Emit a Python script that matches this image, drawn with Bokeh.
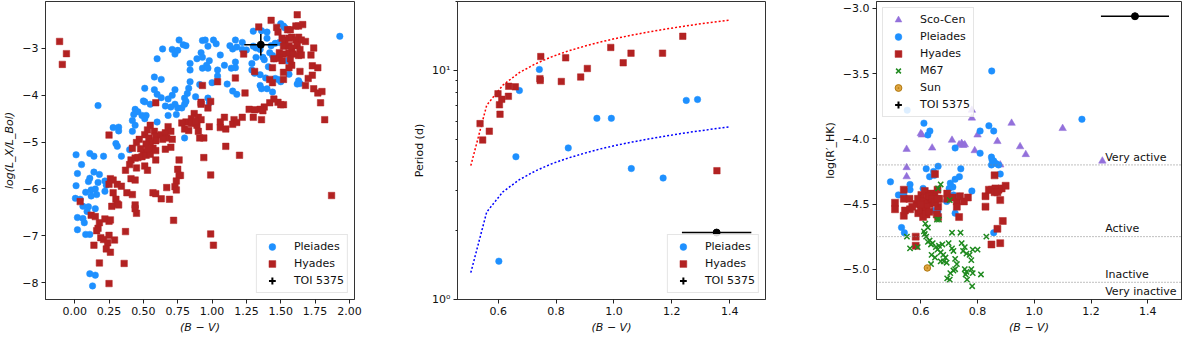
from bokeh.plotting import figure
from bokeh.layouts import row
from bokeh.models import (Range1d, FixedTicker, CustomJSTickFormatter, Legend, LegendItem, Span)
from bokeh.core.properties import value
from bokeh.embed import file_html
from bokeh.resources import INLINE

FONT = "DejaVu Sans"
BLUE = "#1E90FF"
RED = "#B22222"
PURPLE = "#9370DB"
GREEN = "#1f8a1f"
NAN = float("nan")

# ---------------- Panel 1: log(Lx/Lbol) vs B-V ----------------
pl1_bv = [0.01, 0.05, 0.11, 0.14, 0.21, 0.02, 0.11, 0.14, 0.18, 0.01,
          0.10, 0.17, 0.005, 0.04, 0.08, 0.12, 0.15, 0.16, 0.12, 0.22,
          0.06, 0.10, 0.09, 0.15, 0.02, 0.06, 0.07, 0.02, 0.08, 0.11,
          0.11, 0.15, 0.13, 0.17, 0.28, 0.32, 0.32, 0.30, 0.31, 0.34,
          0.22, 0.23,
          0.76, 0.79, 0.81, 0.71, 0.73, 0.75, 0.64, 0.60, 0.93, 0.92,
          0.93, 0.89, 0.84, 0.84, 0.93, 0.58, 0.63, 0.51, 0.58, 0.60,
          0.63, 0.84, 0.83, 0.82, 0.80, 0.81, 0.88, 0.50, 0.51, 0.55,
          0.66, 0.70, 0.73, 0.75, 0.78, 0.80, 0.44, 0.46, 0.43, 0.49,
          0.52, 0.42, 0.51, 0.68, 0.74, 0.44, 0.42, 0.60, 0.80, 0.40,
          0.68, 0.71, 0.73,
          0.95, 1.01, 1.03, 0.97, 0.98, 0.96, 0.97, 1.06, 1.13, 1.15,
          1.17, 1.18, 1.22, 1.22, 1.25, 1.17, 1.09, 1.14, 1.17, 1.04,
          1.04, 1.00, 1.11, 0.91, 1.15, 1.18, 0.97, 0.98, 1.30, 1.36,
          1.40, 1.50, 1.52, 1.53, 1.32, 1.35, 1.30, 1.37, 1.32, 1.29,
          1.29, 1.31, 1.35, 1.39, 1.35, 1.36, 1.40, 1.44, 1.38, 1.41,
          1.42, 1.44, 1.45, 1.46, 1.49, 1.43, 1.40, 1.55, 1.56, 1.63,
          1.64, 1.62, 1.93, 1.48, 1.50, 1.46]
pl1_lx = [-5.27, -5.48, -5.24, -5.30, -5.30, -5.67, -5.77, -5.64, -5.69, -5.93,
          -5.84, -5.86, -6.20, -6.22, -6.07, -6.02, -6.00, -6.12, -6.15, -6.05,
          -6.37, -6.38, -6.48, -6.42, -6.61, -6.63, -6.72, -6.87, -6.97, -6.97,
          -7.81, -7.84, -8.07, -4.22, -4.69, -4.68, -4.76, -5.03, -5.09, -5.30,
          -5.83, -5.92,
          -2.82, -2.92, -2.94, -3.02, -3.12, -3.04, -3.01, -3.22, -2.83, -3.09,
          -3.19, -3.22, -3.32, -3.46, -3.42, -3.61, -3.66, -3.85, -3.88, -3.98,
          -4.05, -3.71, -3.85, -3.96, -4.06, -4.13, -4.03, -4.12, -4.14, -4.19,
          -4.23, -4.25, -4.19, -4.27, -4.27, -4.19, -4.30, -4.35, -4.41, -4.43,
          -4.43, -4.54, -4.50, -4.43, -4.41, -4.64, -4.77, -4.57, -4.91, -5.16,
          -4.08, -4.00, -3.88,
          -2.82, -2.82, -2.90, -2.95, -3.26, -3.36, -3.42, -3.14, -2.94, -3.01,
          -2.82, -2.97, -2.87, -3.02, -3.03, -3.29, -3.36, -3.42, -3.41, -3.46,
          -3.59, -3.73, -3.76, -3.77, -3.91, -3.98, -4.06, -4.16, -2.63, -2.62,
          -2.65, -2.47, -2.52, -2.56, -2.99, -3.02, -2.95, -3.19, -3.19, -3.32,
          -3.46, -3.53, -3.56, -3.63, -3.79, -3.86, -3.86, -3.93, -3.24, -3.39,
          -3.09, -3.15, -3.22, -2.89, -2.87, -2.94, -2.78, -3.26, -3.55, -3.69,
          -3.75, -3.76, -2.74, -3.66, -3.71, -3.64]

hy1_bv = [-0.11, -0.06, -0.09,
          0.42, 0.50, 0.54, 0.57, 0.66, 0.41, 0.44, 0.46, 0.49, 0.52,
          0.55, 0.59, 0.37, 0.40, 0.45, 0.51, 0.53, 0.76, 0.94, 0.75,
          0.76, 0.77, 0.41, 0.44, 0.26, 0.28, 0.25, 0.31, 0.34, 0.74,
          0.73, 0.74, 0.67, 0.57, 0.59, 0.63, 0.69, 0.38, 0.42, 0.28,
          0.30, 0.31, 0.27, 0.32, 0.44, 0.44, 0.45, 0.04, 0.12, 0.15,
          0.22, 0.25, 0.26, 0.18, 0.17, 0.16, 0.37, 0.72, 0.19, 0.21,
          0.25, 0.29, 0.24, 0.14, 0.23, 0.26, 0.18, 0.36, 0.25,
          1.20, 0.99, 1.87, 0.99, 1.01, 1.10,
          0.93, 0.59, 0.92, 0.87, 0.90, 0.85, 0.81, 0.78, 0.85, 0.89,
          0.25, 0.55, 0.53, 0.58, 0.51, 0.54, 0.59, 0.63, 0.66, 0.68,
          0.70, 0.67, 0.71, 0.64, 0.59, 0.55, 0.52, 0.47, 0.45, 0.48,
          0.53, 0.59, 0.70, 0.80, 0.83,
          1.62, 1.43, 1.34, 1.47, 1.48, 1.55, 1.57, 1.61, 1.63, 1.66,
          1.51, 1.53, 1.56, 1.58, 1.61, 1.63, 1.65, 1.68, 1.52, 1.56,
          1.58, 1.62, 1.64, 1.49, 1.52, 1.56, 1.59, 1.63, 1.65, 1.45,
          1.49, 1.51, 1.57, 1.58, 1.56, 1.74, 1.72, 1.73, 1.77, 1.64,
          1.73, 1.70, 1.68, 1.74, 1.77, 1.80, 1.79, 1.82, 1.44, 1.52,
          1.52, 1.31, 1.23, 1.17, 1.04, 1.24, 1.42, 1.44, 1.45, 1.48,
          1.50, 1.52, 1.42, 1.38, 1.37, 1.35, 1.31, 1.27, 1.30, 1.36,
          1.22, 1.16, 1.15, 1.18, 1.09, 1.06, 1.06, 1.10, 0.98, 0.92,
          0.99, 0.97, 0.92, 0.88, 0.90, 0.94, 0.91]
hy1_lx = [-2.85, -3.11, -3.34,
          -5.13, -5.21, -5.18, -5.13, -5.15, -5.38, -5.34, -5.33, -5.31, -5.28,
          -5.26, -5.38, -5.60, -5.48, -5.55, -5.51, -5.60, -5.38, -5.33, -5.58,
          -5.71, -5.71, -5.78, -5.81, -5.78, -5.81, -5.90, -5.90, -5.94, -5.83,
          -5.95, -6.02, -5.97, -6.08, -6.10, -6.21, -6.22, -6.08, -6.12, -6.08,
          -6.22, -6.32, -6.37, -6.34, -6.34, -6.42, -6.52, -6.27, -6.56, -6.59,
          -6.64, -6.69, -6.66, -6.72, -6.84, -6.89, -6.91, -6.67, -7.04, -7.08,
          -6.99, -7.09, -7.15, -7.20, -7.28, -7.35, -7.58, -7.59, -8.02,
          -5.28, -5.70, -6.14, -6.96, -7.20, -5.09,
          -3.79, -4.16, -4.19, -4.39, -4.47, -4.50, -4.57, -4.59, -4.60, -4.64,
          -4.85, -4.64, -4.74, -4.77, -4.84, -4.91, -4.87, -4.84, -4.80, -4.67,
          -4.77, -4.91, -4.94, -4.94, -4.97, -5.01, -5.04, -4.94, -5.01, -5.14,
          -5.14, -5.18, -5.11, -4.72, -4.75,
          -2.28, -2.40, -2.54, -2.55, -2.65, -2.60, -2.60, -2.52, -2.52, -2.49,
          -2.78, -2.82, -2.78, -2.76, -2.82, -2.76, -2.82, -2.85, -2.95, -2.94,
          -2.99, -2.94, -3.02, -3.09, -3.12, -3.09, -3.12, -3.15, -3.14, -3.22,
          -3.21, -3.26, -3.22, -3.36, -3.41, -2.99, -3.14, -3.37, -3.41, -3.49,
          -3.57, -3.64, -3.79, -3.86, -3.95, -3.92, -4.16, -4.52, -3.41, -3.51,
          -3.66, -3.49, -3.12, -3.63, -3.71, -3.95, -3.66, -3.73, -4.08, -4.15,
          -4.20, -4.20, -4.16, -4.25, -4.33, -4.30, -4.31, -4.30, -4.47, -4.52,
          -4.47, -4.52, -4.62, -4.58, -4.47, -4.57, -4.69, -4.72, -4.67, -4.15,
          -4.13, -4.27, -4.52, -4.56, -4.77, -4.91, -4.91]

# TOI 5375
toi_bv = 1.355
toi_bv_err = 0.12
toi_lx = -2.92
toi_lx_err = 0.23
toi_period = 1.96
toi_rhk = -3.06

# ---------------- Panel 2: rotation period ----------------
pl2_bv = [0.673, 0.742, 0.661, 0.842, 0.941, 0.991, 1.060, 1.170, 1.250, 1.289, 0.602]
pl2_per = [8.17, 10.1, 4.20, 4.59, 6.18, 6.18, 3.73, 3.39, 7.40, 7.47, 1.47]
hy2_bv = [0.537, 0.546, 0.569, 0.599, 0.604, 0.612, 0.606, 0.636, 0.635, 0.659, 0.747, 0.744,
          0.745, 0.833, 0.818, 0.885, 0.908, 0.989, 1.032, 1.059, 1.168, 1.238, 1.356]
hy2_per = [5.86, 4.97, 5.43, 7.91, 7.08, 7.48, 6.44, 8.53, 7.71, 8.48, 11.5, 9.21,
           9.04, 11.35, 8.95, 9.36, 10.2, 12.6, 10.8, 11.9, 11.9, 14.1, 3.65]
gyro_bv = [0.505, 0.56, 0.616, 0.672, 0.728, 0.784, 0.84, 0.895, 0.951, 1.007,
           1.063, 1.119, 1.175, 1.231, 1.287, 1.343, 1.40]
gyro_hyades = [3.84, 7.05, 8.63, 9.77, 10.68, 11.46, 12.14, 12.73, 13.29, 13.80,
               14.27, 14.71, 15.13, 15.52, 15.90, 16.25, 16.60]
gyro_pleiades = [1.31, 2.41, 2.95, 3.33, 3.64, 3.91, 4.14, 4.34, 4.54, 4.71,
                 4.87, 5.02, 5.16, 5.30, 5.43, 5.55, 5.67]

# ---------------- Panel 3: log R'HK ----------------
sco_bv = [0.55, 0.55, 0.55, 0.60, 0.604, 0.64, 0.71, 0.735, 0.744, 0.749, 0.755,
          0.78, 0.78, 0.79, 0.80, 0.87, 0.88, 0.92, 0.95, 0.97, 1.10, 1.24]
sco_rhk = [-4.08, -4.22, -4.29, -3.96, -3.97, -4.07, -4.01, -4.045, -4.035, -4.05, -4.045,
           -3.78, -3.84, -4.09, -3.97, -4.02, -4.20, -3.88, -4.06, -4.12, -3.92, -4.17]
pl3_bv = [0.493, 0.521, 0.540, 0.532, 0.542, 0.552, 0.562, 0.562, 0.611, 0.625,
          0.632, 0.619, 0.608, 0.631, 0.648, 0.661, 0.645, 0.721, 0.721, 0.704,
          0.713, 0.741, 0.736, 0.780, 0.736, 0.715, 0.840, 0.850, 0.809, 0.809,
          0.857, 0.849, 0.851, 0.857, 0.849, 0.865, 0.874, 0.880, 1.168, 0.691,
          0.648, 0.721, 0.653, 0.857, 0.700, 0.660]
pl3_rhk = [-4.33, -4.43, -4.43, -4.68, -4.72, -3.78, -4.35, -4.39, -3.88, -3.97,
           -3.94, -4.23, -4.38, -4.29, -4.28, -4.21, -4.25, -4.07, -4.31, -4.34,
           -4.37, -4.23, -4.29, -4.40, -4.44, -4.43, -3.90, -3.48, -3.94, -4.11,
           -3.94, -4.14, -4.16, -4.17, -4.20, -4.19, -4.20, -4.27, -3.85, -4.48,
           -4.55, -4.57, -4.48, -4.72, -4.38, -4.56]
hy3_bv = [0.65, 0.86, 0.828, 0.88, 0.889, 0.87, 0.849, 0.88, 0.582, 0.582,
          0.509, 0.509, 0.540, 0.540, 0.540, 0.544, 0.560, 0.562, 0.585, 0.591,
          0.600, 0.608, 0.602, 0.614, 0.625, 0.636, 0.648, 0.659, 0.642, 0.631,
          0.616, 0.661, 0.661, 0.665, 0.693, 0.693, 0.713, 0.727, 0.738, 0.752,
          0.766, 0.727, 0.735, 0.828, 0.840, 0.851, 0.863, 0.874, 0.885, 0.899,
          0.86, 0.87, 0.59, 0.61, 0.62, 0.63, 0.64, 0.65, 0.66, 0.62,
          0.60, 0.57, 0.63, 0.656]
hy3_rhk = [-4.27, -4.28, -4.52, -4.47, -4.63, -4.69, -4.81, -4.80, -4.75, -4.82,
           -4.49, -4.54, -4.39, -4.46, -4.59, -4.55, -4.46, -4.54, -4.50, -4.57,
           -4.55, -4.60, -4.43, -4.40, -4.45, -4.42, -4.43, -4.39, -4.48, -4.50,
           -4.54, -4.52, -4.60, -4.46, -4.42, -4.46, -4.45, -4.48, -4.44, -4.48,
           -4.45, -4.52, -4.60, -4.44, -4.39, -4.39, -4.38, -4.39, -4.38, -4.36,
           -4.41, -4.41, -4.46, -4.48, -4.52, -4.44, -4.46, -4.49, -4.46, -4.58,
           -4.50, -4.52, -4.56, -4.58]
m67_bv = [0.670, 0.702, 0.657, 0.664, 0.616, 0.625, 0.611, 0.551, 0.589, 0.614,
          0.619, 0.625, 0.631, 0.642, 0.636, 0.653, 0.664, 0.676, 0.659, 0.670,
          0.679, 0.687, 0.638, 0.650, 0.710, 0.740, 0.698, 0.710, 0.715, 0.744,
          0.755, 0.749, 0.761, 0.783, 0.800, 0.772, 0.778, 0.670, 0.681, 0.691,
          0.721, 0.727, 0.721, 0.715, 0.704, 0.693, 0.702, 0.755, 0.761, 0.778,
          0.783, 0.758, 0.763, 0.812, 0.781, 0.831, 0.661, 0.562, 0.636]
m67_rhk = [-4.35, -4.47, -4.62, -4.62, -4.65, -4.68, -4.71, -4.75, -4.83, -4.73,
           -4.75, -4.79, -4.78, -4.80, -4.81, -4.83, -4.82, -4.81, -4.85, -4.87,
           -4.89, -4.91, -4.89, -4.91, -4.72, -4.72, -4.80, -4.84, -4.86, -4.80,
           -4.83, -4.86, -4.88, -4.85, -4.85, -4.89, -4.93, -4.94, -4.94, -4.95,
           -4.92, -4.96, -5.00, -5.01, -5.03, -5.07, -5.08, -5.00, -5.02, -5.00,
           -5.03, -5.04, -5.08, -5.04, -5.13, -4.75, -4.38, -4.84, -4.96]
sun_bv = [0.623]
sun_rhk = [-4.99]
activity_levels = [-4.2, -4.75, -5.1]
activity_labels = ["Very active", "Active", "Inactive", "Very inactive"]
activity_label_y = [-4.14, -4.69, -5.04, -5.17]
activity_label_x = [1.25, 1.25, 1.25, 1.25]

# ticks
p1_xticks = [0.0, 0.25, 0.5, 0.75, 1.0, 1.25, 1.5, 1.75, 2.0]
p1_yticks = [-8, -7, -6, -5, -4, -3]
bv_ticks = [0.6, 0.8, 1.0, 1.2, 1.4]
p2_yticks = [1, 10]
p2_yminor = [2, 3, 4, 5, 6, 7, 8, 9, 20]
p3_yticks = [-5.0, -4.5, -4.0, -3.5, -3.0]

H = 336


def fmt(nd):
    return CustomJSTickFormatter(code="return tick.toFixed(%d).replace('-', '\u2212');" % nd)


def make_fig(width, xr, yr, mbl, mbr, ytype="linear"):
    p = figure(width=width, height=H, x_range=Range1d(*xr), y_range=Range1d(*yr),
               y_axis_type=ytype, output_backend="svg", toolbar_location=None,
               min_border_left=mbl, min_border_right=mbr, min_border_top=1, min_border_bottom=37)
    p.grid.visible = False
    p.outline_line_color = "#333333"
    p.outline_line_width = 1
    p.background_fill_color = "white"
    p.border_fill_color = "white"
    for ax in p.axis:
        ax.axis_line_color = "#333333"
        ax.major_tick_line_color = "#222222"
        ax.major_tick_out = 4
        ax.major_tick_in = 0
        ax.minor_tick_line_color = None
        ax.major_label_text_font = FONT
        ax.major_label_text_font_size = "11px"
        ax.major_label_text_color = "#111111"
        ax.axis_label_text_font = FONT
        ax.axis_label_text_font_size = "11px"
        ax.axis_label_text_color = "#111111"
        ax.axis_label_text_font_style = "normal"
        ax.major_label_standoff = 3
        ax.axis_label_standoff = 3
    return p


def make_legend(items, location):
    leg = Legend(items=items, location=location)
    leg.label_text_font = FONT
    leg.label_text_font_size = "11px"
    leg.label_text_color = "#111111"
    leg.border_line_color = "#cccccc"
    leg.border_line_width = 1
    leg.background_fill_color = "white"
    leg.background_fill_alpha = 0.85
    leg.padding = 3
    leg.spacing = 0
    leg.margin = 6
    leg.glyph_width = 24
    leg.glyph_height = 17
    leg.label_height = 17
    leg.label_standoff = 10
    return leg


def toi_renderers(p, yval, yerr=None):
    p.segment(x0=[toi_bv - toi_bv_err], y0=[yval], x1=[toi_bv + toi_bv_err], y1=[yval],
              line_color="black", line_width=1.6)
    if yerr is not None:
        p.segment(x0=[toi_bv], y0=[yval - yerr], x1=[toi_bv], y1=[yval + yerr],
                  line_color="black", line_width=1.6)
    p.scatter(x=[toi_bv], y=[yval], marker="circle", size=7, fill_color="black", line_color="black")
    # legend-only glyphs (errorbar symbol)
    cross = p.scatter(x=[NAN], y=[NAN], marker="cross", size=12, line_color="black", line_width=2)
    dot = p.scatter(x=[NAN], y=[NAN], marker="dot", size=12, line_color="black", line_width=3)
    return [cross, dot]


# ---------------- Figure 1 ----------------
p1 = make_fig(410, (-0.2125, 2.037), (-8.36, -1.997), 41, 56)
p1.xaxis.ticker = FixedTicker(ticks=p1_xticks)
p1.yaxis.ticker = FixedTicker(ticks=p1_yticks)
p1.xaxis.formatter = fmt(2)
p1.yaxis.formatter = fmt(0)
p1.xaxis.axis_label = "(B \u2212 V)"
p1.yaxis.axis_label = "log(L_X/L_Bol)"
p1.xaxis.axis_label_text_font_style = "italic"
p1.yaxis.axis_label_text_font_style = "italic"
r_pl1 = p1.scatter(x=pl1_bv, y=pl1_lx, marker="circle", size=6.5, fill_color=BLUE, line_color=BLUE, line_width=0.5)
r_hy1 = p1.scatter(x=hy1_bv, y=hy1_lx, marker="square", size=6.5, fill_color=RED, line_color=RED, line_width=0.5)
t1 = toi_renderers(p1, toi_lx, toi_lx_err)
p1.add_layout(make_legend([LegendItem(label="Pleiades", renderers=[r_pl1]),
                           LegendItem(label="Hyades", renderers=[r_hy1]),
                           LegendItem(label="TOI 5375", renderers=t1)], "bottom_right"))

# ---------------- Figure 2 ----------------
p2 = make_fig(410, (0.459, 1.524), (1, 20), 41, 55, ytype="log")
p2.xaxis.ticker = FixedTicker(ticks=bv_ticks)
p2.yaxis.ticker = FixedTicker(ticks=p2_yticks, minor_ticks=p2_yminor)
p2.xaxis.formatter = fmt(1)
p2.yaxis.formatter = CustomJSTickFormatter(
    code="return tick == 1 ? '10\u2070' : (tick == 10 ? '10\u00b9' : '');")
p2.yaxis.minor_tick_line_color = "#222222"
p2.yaxis.minor_tick_out = 2
p2.yaxis.minor_tick_in = 0
p2.xaxis.axis_label = "(B \u2212 V)"
p2.xaxis.axis_label_text_font_style = "italic"
p2.yaxis.axis_label = "Period (d)"
p2.line(x=gyro_bv, y=gyro_hyades, line_color="red", line_width=1.5, line_dash="2 2")
p2.line(x=gyro_bv, y=gyro_pleiades, line_color="blue", line_width=1.5, line_dash="2 2")
r_pl2 = p2.scatter(x=pl2_bv, y=pl2_per, marker="circle", size=6.5, fill_color=BLUE, line_color=BLUE, line_width=0.5)
r_hy2 = p2.scatter(x=hy2_bv, y=hy2_per, marker="square", size=6.5, fill_color=RED, line_color=RED, line_width=0.5)
t2 = toi_renderers(p2, toi_period)
p2.add_layout(make_legend([LegendItem(label="Pleiades", renderers=[r_pl2]),
                           LegendItem(label="Hyades", renderers=[r_hy2]),
                           LegendItem(label="TOI 5375", renderers=t2)], "bottom_right"))

# ---------------- Figure 3 ----------------
p3 = make_fig(364, (0.4438, 1.519), (-5.232, -2.947), 50, 3)
p3.xaxis.ticker = FixedTicker(ticks=bv_ticks)
p3.yaxis.ticker = FixedTicker(ticks=p3_yticks)
p3.xaxis.formatter = fmt(1)
p3.yaxis.formatter = fmt(1)
p3.xaxis.axis_label = "(B \u2212 V)"
p3.xaxis.axis_label_text_font_style = "italic"
p3.yaxis.axis_label = "log(R\u2032_HK)"
for lev in activity_levels:
    p3.add_layout(Span(location=lev, dimension="width", line_color="gray",
                       line_width=1, line_dash="1 2"))
p3.text(x=activity_label_x, y=activity_label_y, text=activity_labels,
        text_font=value(FONT), text_font_size=value("11px"), text_color="#111111",
        text_baseline="middle", text_align="left")
r_sco = p3.scatter(x=sco_bv, y=sco_rhk, marker="triangle", size=7.5, fill_color=PURPLE, line_color=PURPLE, line_width=0.5)
r_pl3 = p3.scatter(x=pl3_bv, y=pl3_rhk, marker="circle", size=6.5, fill_color=BLUE, line_color=BLUE, line_width=0.5)
r_hy3 = p3.scatter(x=hy3_bv, y=hy3_rhk, marker="square", size=7, fill_color=RED, line_color=RED, line_width=0.5)
r_m67 = p3.scatter(x=m67_bv, y=m67_rhk, marker="x", size=7.5, line_color=GREEN, line_width=1.5)
r_sun = p3.scatter(x=sun_bv, y=sun_rhk, marker="circle_dot", size=6.5, fill_color="#e0a640", line_color="#b07810", line_width=1)
t3 = toi_renderers(p3, toi_rhk)
p3.add_layout(make_legend([LegendItem(label="Sco-Cen", renderers=[r_sco]),
                           LegendItem(label="Pleiades", renderers=[r_pl3]),
                           LegendItem(label="Hyades", renderers=[r_hy3]),
                           LegendItem(label="M67", renderers=[r_m67]),
                           LegendItem(label="Sun", renderers=[r_sun]),
                           LegendItem(label="TOI 5375", renderers=t3)], "top_left"))

layout = row(p1, p2, p3)
open("out.html", "w").write(file_html(layout, INLINE))
